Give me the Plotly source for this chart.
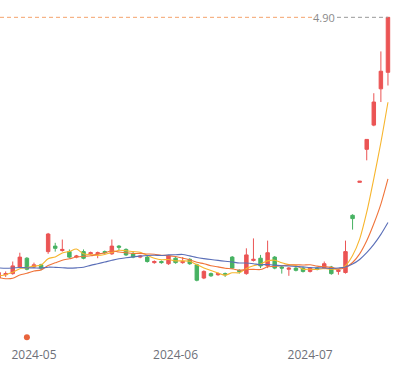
import plotly.graph_objects as go
import pandas as pd

# ---------------- data ----------------
dates = [
    "2024-04-24", "2024-04-25", "2024-04-26", "2024-04-29", "2024-04-30",
    "2024-05-06", "2024-05-07", "2024-05-08", "2024-05-09", "2024-05-10",
    "2024-05-13", "2024-05-14", "2024-05-15", "2024-05-16", "2024-05-17",
    "2024-05-20", "2024-05-21", "2024-05-22", "2024-05-23", "2024-05-24",
    "2024-05-27", "2024-05-28", "2024-05-29", "2024-05-30", "2024-05-31",
    "2024-06-03", "2024-06-04", "2024-06-05", "2024-06-06", "2024-06-07",
    "2024-06-11", "2024-06-12", "2024-06-13", "2024-06-14", "2024-06-17",
    "2024-06-18", "2024-06-19", "2024-06-20", "2024-06-21", "2024-06-24",
    "2024-06-25", "2024-06-26", "2024-06-27", "2024-06-28", "2024-07-01",
    "2024-07-02", "2024-07-03", "2024-07-04", "2024-07-05", "2024-07-08",
    "2024-07-09", "2024-07-10", "2024-07-11", "2024-07-12", "2024-07-15",
    "2024-07-16",
]
open_ = [2.53, 2.56, 2.57, 2.63, 2.71, 2.63, 2.65, 2.77, 2.82, 2.78,
         2.77, 2.72, 2.77, 2.75, 2.75, 2.77, 2.75, 2.82, 2.79, 2.75,
         2.72, 2.72, 2.67, 2.68, 2.66, 2.71, 2.67, 2.70, 2.65, 2.53,
         2.57, 2.56, 2.57, 2.72, 2.60, 2.57, 2.69, 2.71, 2.64, 2.72,
         2.63, 2.61, 2.62, 2.62, 2.59, 2.62, 2.62, 2.63, 2.59, 2.58,
         3.10, 3.40, 3.70, 3.92, 4.25, 4.40]
high = [2.60, 2.59, 2.68, 2.76, 2.72, 2.67, 2.66, 2.94, 2.85, 2.88,
        2.79, 2.74, 2.79, 2.77, 2.77, 2.78, 2.88, 2.83, 2.80, 2.77,
        2.74, 2.73, 2.69, 2.69, 2.74, 2.72, 2.72, 2.71, 2.66, 2.60,
        2.58, 2.58, 2.58, 2.73, 2.61, 2.80, 2.89, 2.74, 2.87, 2.73,
        2.64, 2.63, 2.63, 2.63, 2.63, 2.63, 2.68, 2.64, 2.61, 2.87,
        3.11, 3.41, 3.79, 4.21, 4.59, 4.90]
low = [2.52, 2.54, 2.56, 2.62, 2.60, 2.62, 2.60, 2.75, 2.77, 2.77,
       2.71, 2.71, 2.70, 2.74, 2.71, 2.75, 2.74, 2.78, 2.73, 2.71,
       2.71, 2.67, 2.66, 2.66, 2.65, 2.66, 2.66, 2.65, 2.50, 2.52,
       2.54, 2.55, 2.54, 2.61, 2.57, 2.56, 2.68, 2.62, 2.62, 2.61,
       2.57, 2.55, 2.59, 2.58, 2.58, 2.60, 2.61, 2.56, 2.56, 2.57,
       2.97, 3.40, 3.60, 3.91, 4.13, 4.28]
close = [2.58, 2.57, 2.64, 2.72, 2.61, 2.65, 2.62, 2.93, 2.80, 2.79,
         2.72, 2.73, 2.71, 2.76, 2.76, 2.76, 2.82, 2.81, 2.74, 2.72,
         2.73, 2.68, 2.68, 2.67, 2.73, 2.67, 2.68, 2.66, 2.51, 2.59,
         2.55, 2.57, 2.56, 2.62, 2.59, 2.74, 2.70, 2.64, 2.76, 2.62,
         2.62, 2.62, 2.60, 2.59, 2.62, 2.61, 2.66, 2.57, 2.60, 2.77,
         3.07, 3.41, 3.79, 4.13, 4.41, 4.90]
# closes of the trading days before the visible window (moving-average warm-up)
warmup_close = [2.62, 2.60, 2.64, 2.66, 2.67, 2.65, 2.77, 2.83, 2.85, 2.80,
                2.68, 2.60, 2.42, 2.46, 2.45, 2.51, 2.53, 2.56, 2.56]
ma_windows = [5, 10, 20]
event_dates = ["2024-04-30"]
tick_dates = ["2024-05-06", "2024-06-03", "2024-07-01"]
tick_labels = ["2024-05", "2024-06", "2024-07"]

# ---------------- styles ----------------
UP = "#eb5454"
DOWN = "#47b262"
MA_COLORS = ["#f7b52c", "#f0743a", "#5b6fb8"]
Y_RANGE = [1.912, 5.012]
X_RANGE = [0.2, 56.7]

all_close = pd.Series(warmup_close + close)


def moving_average(w):
    return all_close.rolling(w).mean().iloc[len(warmup_close):].round(4).tolist()


fig = go.Figure()
fig.add_trace(go.Candlestick(
    x=dates, open=open_, high=high, low=low, close=close,
    increasing=dict(line=dict(color=UP, width=1), fillcolor=UP),
    decreasing=dict(line=dict(color=DOWN, width=1), fillcolor=DOWN),
    whiskerwidth=0, showlegend=False, hoverinfo="skip",
))
for w, col in zip(ma_windows, MA_COLORS):
    fig.add_trace(go.Scatter(
        x=dates, y=moving_average(w), mode="lines", name=f"MA{w}",
        line=dict(color=col, width=1.1, shape="spline", smoothing=0.8),
        showlegend=False, hoverinfo="skip",
    ))
fig.add_trace(go.Scatter(
    x=event_dates, y=[Y_RANGE[0] + 0.08] * len(event_dates), mode="markers",
    marker=dict(size=6, color="#e8643c"), showlegend=False, hoverinfo="skip",
))

# max-price mark line
max_price = max(high)
last = len(dates) - 1
fig.add_shape(type="line", xref="x", yref="y", x0=X_RANGE[0], x1=last - 10.7,
              y0=max_price, y1=max_price,
              line=dict(color="#f4a26b", width=1, dash="4px,3px"))
fig.add_shape(type="line", xref="x", yref="y", x0=last - 7.2, x1=last,
              y0=max_price, y1=max_price,
              line=dict(color="#999999", width=1, dash="4px,3px"))
fig.add_annotation(x=last - 9.0, y=max_price, xref="x", yref="y",
                   text=f"{max_price:.2f}", showarrow=False,
                   font=dict(family="Open Sans", size=11, color="#8a8a8a"))

fig.update_layout(
    width=400, height=375,
    margin=dict(l=0, r=0, t=5, b=29),
    paper_bgcolor="white", plot_bgcolor="white",
    xaxis=dict(type="category", range=X_RANGE, rangeslider=dict(visible=False),
               tickvals=tick_dates, ticktext=tick_labels, showgrid=False,
               showline=False, zeroline=False, ticks="",
               tickfont=dict(family="Open Sans", size=12, color="#6e7079")),
    yaxis=dict(range=Y_RANGE, visible=False, showgrid=False, zeroline=False),
)

fig.write_html(
    "out.html",
    config={"displayModeBar": False, "staticPlot": True},
    post_script="document.body.style.margin='0';document.body.style.overflow='hidden';",
)
